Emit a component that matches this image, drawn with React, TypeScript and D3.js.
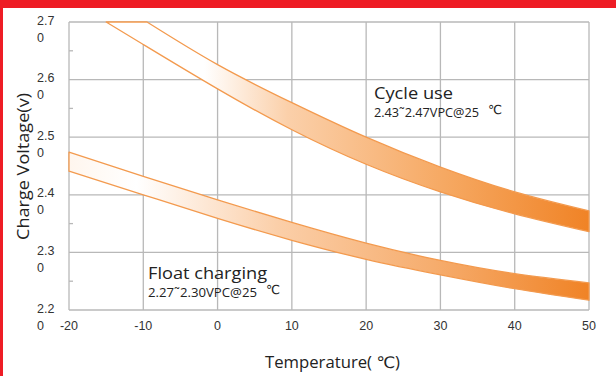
import React, { useRef, useEffect } from "react";
import * as d3 from "d3";

// x ticks (deg C) and y ticks (volts)
const tempTicks = [-20, -10, 0, 10, 20, 30, 40, 50];
const voltTicks = [2.2, 2.3, 2.4, 2.5, 2.6, 2.7];
const voltMinor = [2.25, 2.35, 2.45, 2.55, 2.65];

// cycle use band (upper / lower edge)
const cycleUpperT = [-9.5, 0, 10, 20, 30, 40, 50];
const cycleUpperV = [2.7, 2.626, 2.56, 2.5, 2.448, 2.405, 2.372];
const cycleLowerT = [-15, -10, 0, 10, 20, 30, 40, 50];
const cycleLowerV = [2.7, 2.661, 2.584, 2.513, 2.453, 2.405, 2.367, 2.336];

// float charging band
const floatT = [-20, -10, 0, 10, 20, 30, 40, 50];
const floatUpperV = [2.474, 2.432, 2.391, 2.352, 2.316, 2.286, 2.263, 2.247];
const floatLowerV = [2.441, 2.4, 2.359, 2.321, 2.288, 2.261, 2.237, 2.217];

const App = () => {
  const d3Container = useRef<SVGSVGElement | null>(null);

  useEffect(() => {
    if (!d3Container.current) return;
    const svg = d3.select(d3Container.current);
    svg.selectAll("*").remove();

    const width = 616;
    const height = 376;
    const plot = { left: 69, right: 589, top: 22, bottom: 310 };

    const xScale = d3.scaleLinear().domain([-20, 50]).range([plot.left, plot.right]);
    const yScale = d3.scaleLinear().domain([2.2, 2.7]).range([plot.bottom, plot.top]);

    // background + red frame
    svg.append("rect").attr("width", width).attr("height", height).attr("fill", "#fff");
    svg.append("rect").attr("width", width).attr("height", 8).attr("fill", "#ee1c25");
    svg.append("rect").attr("width", 3).attr("height", height).attr("fill", "#ee1c25");

    const defs = svg.append("defs");
    const makeGrad = (id: string, stops: [number, string][]) => {
      const g = defs
        .append("linearGradient")
        .attr("id", id)
        .attr("gradientUnits", "userSpaceOnUse")
        .attr("x1", plot.left)
        .attr("x2", plot.right)
        .attr("y1", 0)
        .attr("y2", 0);
      stops.forEach(([o, c]) => g.append("stop").attr("offset", o).attr("stop-color", c));
    };
    makeGrad("gradCycle", [
      [0, "#ffffff"],
      [0.26, "#ffffff"],
      [0.42, "#fbd0aa"],
      [0.72, "#f6a963"],
      [1, "#f08326"],
    ]);
    makeGrad("gradFloat", [
      [0, "#fff6ee"],
      [0.13, "#ffffff"],
      [0.4, "#fbcfa9"],
      [0.7, "#f6ad6e"],
      [1, "#f08326"],
    ]);

    // grid
    const grid = svg.append("g").attr("stroke", "#b8b8b8").attr("stroke-width", 1.3);
    tempTicks.forEach((t) => {
      grid
        .append("line")
        .attr("x1", xScale(t))
        .attr("x2", xScale(t))
        .attr("y1", plot.top)
        .attr("y2", plot.bottom);
    });
    voltTicks.forEach((v) => {
      grid
        .append("line")
        .attr("x1", plot.left)
        .attr("x2", plot.right)
        .attr("y1", yScale(v))
        .attr("y2", yScale(v));
    });
    voltMinor.forEach((v) => {
      grid
        .append("line")
        .attr("x1", plot.left)
        .attr("x2", plot.left + 4)
        .attr("y1", yScale(v))
        .attr("y2", yScale(v));
    });

    // band polygon: upper edge forward, lower edge backward, closed
    const line = d3
      .line<[number, number]>()
      .x((d) => xScale(d[0]))
      .y((d) => yScale(d[1]))
      .curve(d3.curveNatural);
    const bandPath = (upT: number[], upV: number[], loT: number[], loV: number[]) => {
      const up = upT.map((t, i) => [t, upV[i]] as [number, number]);
      const lo = loT.map((t, i) => [t, loV[i]] as [number, number]).reverse();
      return (line(up) || "") + (line(lo) || "").replace(/^M/, "L") + "Z";
    };

    svg
      .append("path")
      .attr("d", bandPath(cycleUpperT, cycleUpperV, cycleLowerT, cycleLowerV))
      .attr("fill", "url(#gradCycle)")
      .attr("stroke", "#f39a4e")
      .attr("stroke-width", 1.3)
      .attr("stroke-linejoin", "round");
    svg
      .append("path")
      .attr("d", bandPath(floatT, floatUpperV, floatT, floatLowerV))
      .attr("fill", "url(#gradFloat)")
      .attr("stroke", "#f39a4e")
      .attr("stroke-width", 1.3)
      .attr("stroke-linejoin", "round");

    const tickFont = "'Liberation Sans', Arial, sans-serif";
    const labelFont = "'Open Sans', 'DejaVu Sans', sans-serif";

    // x tick labels
    svg
      .append("g")
      .selectAll("text")
      .data(tempTicks)
      .join("text")
      .attr("x", (d) => xScale(d))
      .attr("y", 330)
      .attr("text-anchor", "middle")
      .attr("font-family", tickFont)
      .attr("font-size", 12.5)
      .attr("fill", "#333")
      .text((d) => d);

    // y tick labels, wrapped like "2.7" / "0"
    const yLab = svg
      .append("g")
      .selectAll("text")
      .data(voltTicks)
      .join("text")
      .attr("font-family", tickFont)
      .attr("font-size", 12.5)
      .attr("fill", "#333");
    yLab
      .append("tspan")
      .attr("x", 37)
      .attr("y", (d) => yScale(d) + 2.5)
      .text((d) => d.toFixed(1));
    yLab
      .append("tspan")
      .attr("x", 37)
      .attr("y", (d) => yScale(d) + 19.5)
      .text("0");

    // axis titles
    svg
      .append("text")
      .attr("x", 265)
      .attr("y", 368)
      .attr("font-family", labelFont)
      .attr("font-size", 16)
      .attr("fill", "#222")
      .attr("textLength", 135)
      .attr("lengthAdjust", "spacingAndGlyphs")
      .text("Temperature( ℃)");

    svg
      .append("text")
      .attr("transform", `translate(29,${(93 + 240) / 2}) rotate(-90)`)
      .attr("text-anchor", "middle")
      .attr("font-family", labelFont)
      .attr("font-size", 16)
      .attr("fill", "#222")
      .attr("textLength", 147)
      .attr("lengthAdjust", "spacingAndGlyphs")
      .text("Charge Voltage(v)");

    // band annotations
    const note = (
      x: number,
      y: number,
      title: string,
      titleW: number,
      sub: string,
      subW: number
    ) => {
      svg
        .append("text")
        .attr("x", x)
        .attr("y", y)
        .attr("font-family", labelFont)
        .attr("font-size", 16)
        .attr("fill", "#222")
        .attr("textLength", titleW)
        .attr("lengthAdjust", "spacingAndGlyphs")
        .text(title);
      svg
        .append("text")
        .attr("x", x)
        .attr("y", y + 18)
        .attr("font-family", labelFont)
        .attr("font-size", 12)
        .attr("fill", "#222")
        .attr("textLength", subW)
        .attr("lengthAdjust", "spacingAndGlyphs")
        .text(sub);
      svg
        .append("text")
        .attr("x", x + subW + 9)
        .attr("y", y + 15)
        .attr("font-family", labelFont)
        .attr("font-size", 12.5)
        .attr("fill", "#222")
        .text("℃");
    };
    note(374, 99, "Cycle use", 79, "2.43˜2.47VPC@25", 105);
    note(148, 279, "Float charging", 119, "2.27˜2.30VPC@25", 109);
  }, []);

  return (
    <svg
      ref={d3Container}
      width={616}
      height={376}
      style={{ position: "absolute", left: 0, top: 0, display: "block" }}
    />
  );
};

export default App;
